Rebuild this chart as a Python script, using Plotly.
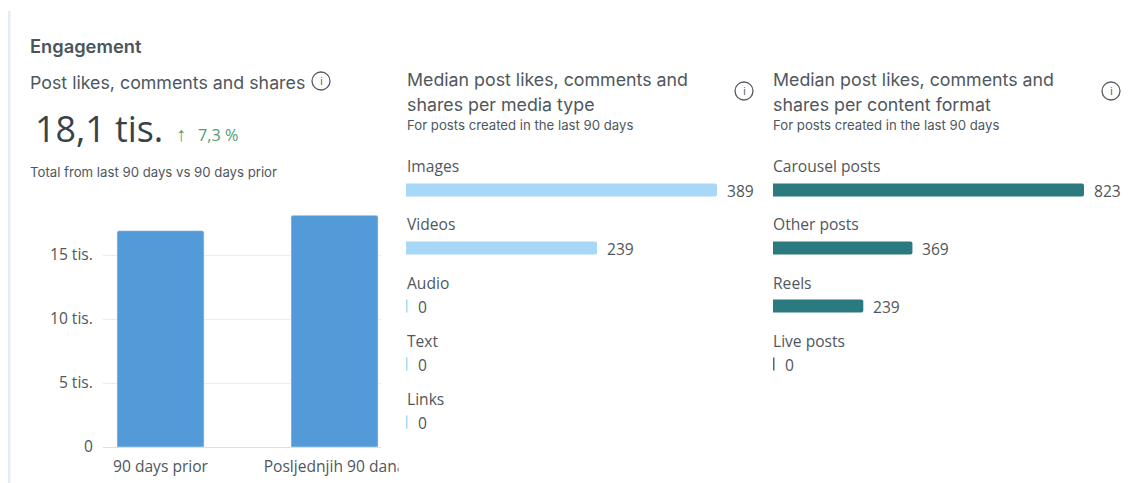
import plotly.graph_objects as go

W, H = 1143, 483

period_labels = ["90 days prior", "Posljednjih 90 dana"]
period_values = [16900, 18100]
y_tick_values = [0, 5000, 10000, 15000]
y_tick_labels = ["0", "5 tis.", "10 tis.", "15 tis."]

media_types = ["Images", "Videos", "Audio", "Text", "Links"]
media_values = [389, 239, 0, 0, 0]

content_formats = ["Carousel posts", "Other posts", "Reels", "Live posts"]
content_values = [823, 369, 239, 0]

BLUE = "#529bd8"
LIGHT = "#a8d8f8"
TEAL = "#2a7a7f"
TXT = "#4f575d"
DARK = "#37424a"
FONT = "Open Sans"
HEAD = "Inter"
LABEL = 15.6


def px(x):
    return x / W


def py(y):
    return 1 - y / H


fig = go.Figure()
fig.add_trace(go.Bar(x=period_labels, y=period_values, width=0.5, marker=dict(color=BLUE, cornerradius=2),
                     xaxis="x", yaxis="y", showlegend=False))
fig.add_trace(go.Bar(x=media_values, y=media_types, orientation="h", width=0.225,
                     marker=dict(color=LIGHT, cornerradius=2, line=dict(color=LIGHT, width=[3 if v == 0 else 0 for v in media_values])),
                     xaxis="x2", yaxis="y2", showlegend=False))
fig.add_trace(go.Bar(x=content_values, y=content_formats, orientation="h", width=0.225,
                     marker=dict(color=TEAL, cornerradius=2, line=dict(color=TEAL, width=[3 if v == 0 else 0 for v in content_values])),
                     xaxis="x3", yaxis="y3", showlegend=False))

ann = []


def text(x, y, s, size, color=TXT, weight=None, family=HEAD):
    f = dict(family=family, size=size, color=color)
    if weight:
        f["weight"] = weight
    ann.append(dict(xref="paper", yref="paper", x=px(x), y=py(y), text=s, showarrow=False,
                    xanchor="left", yanchor="middle", font=f, align="left", borderpad=0))


text(29, 46, "Engagement", 18.3, "#4a545b", 600)
text(29, 82, "Post likes, comments and shares", 17.8)
text(34, 128, "18,1 tis.", 35.8, DARK, family=FONT)
text(175, 134, "↑", 20, "#4a9e76", family=FONT)
text(197, 135, "7,3 %", 16.2, "#4a9e76", family=FONT)
text(29, 172, "Total from last 90 days vs 90 days prior", 13.2)

for col, fmt in ((406, "media type"), (772, "content format")):
    text(col, 80, "Median post likes, comments and", 17.8)
    text(col, 104, "shares per " + fmt, 17.8)
    text(col, 125, "For posts created in the last 90 days", 13.2)

for axis, names, vals in (("2", media_types, media_values), ("3", content_formats, content_values)):
    for n, v in zip(names, vals):
        ann.append(dict(xref="x" + axis, yref="y" + axis, x=0, y=n, text=n, showarrow=False,
                        xanchor="left", yanchor="middle", yshift=23.5, xshift=-1 if axis == "2" else -2,
                        font=dict(family=FONT, size=LABEL, color=TXT)))
        ann.append(dict(xref="x" + axis, yref="y" + axis, x=v, y=n, text=str(v), showarrow=False,
                        xanchor="left", yanchor="middle", xshift=8 if v else 10, yshift=-1,
                        font=dict(family=FONT, size=LABEL, color=TXT)))

# white cover that cuts the long tick label off as in the reference
ann.append(dict(xref="paper", yref="paper", x=px(398), y=py(467), text=" ", showarrow=False,
                xanchor="left", yanchor="middle", width=30, height=24, bgcolor="white",
                font=dict(size=12)))

shapes = [dict(type="rect", xref="paper", yref="paper", x0=px(8), x1=px(10.5), y0=py(11), y1=0,
               fillcolor="#e3edf9", line=dict(width=0), layer="below")]

for cx, cy in ((321, 81), (744, 91), (1111, 91)):
    shapes.append(dict(type="circle", xref="paper", yref="paper",
                       x0=px(cx - 9), x1=px(cx + 9), y0=py(cy + 9), y1=py(cy - 9),
                       line=dict(color="#555c62", width=1.3), fillcolor="rgba(0,0,0,0)"))
    ann.append(dict(xref="paper", yref="paper", x=px(cx), y=py(cy), text="i", showarrow=False,
                    xanchor="center", yanchor="middle",
                    font=dict(family=FONT, size=11.5, color="#555c62")))

BAND_TOP, BAND_BOTTOM = 161, 451
fig.update_layout(
    width=W, height=H, margin=dict(l=0, r=0, t=0, b=0, autoexpand=False),
    paper_bgcolor="white", plot_bgcolor="white",
    annotations=ann, shapes=shapes,
    font=dict(family=FONT, size=LABEL, color=TXT),
    xaxis=dict(domain=[px(103), px(381)], range=[-0.3305, 1.267], type="category",
               categoryorder="array", categoryarray=period_labels,
               showline=True, linecolor="#dcdfe3", linewidth=1, showgrid=False, zeroline=False,
               ticks="outside", ticklen=5, tickcolor="rgba(0,0,0,0)",
               tickfont=dict(family=FONT, size=LABEL, color=TXT)),
    yaxis=dict(domain=[py(447), py(215)], range=[0, 18125],
               tickvals=y_tick_values, ticktext=y_tick_labels,
               showgrid=True, gridcolor="#ececec", gridwidth=1, zeroline=False, showline=False,
               ticks="outside", ticklen=6, tickcolor="rgba(0,0,0,0)",
               tickfont=dict(family=FONT, size=LABEL, color=TXT)),
    xaxis2=dict(domain=[px(406), px(717)], range=[0, 389], visible=False),
    yaxis2=dict(domain=[py(BAND_BOTTOM), py(BAND_TOP)], range=[4.5, -0.5], type="category",
                categoryorder="array", categoryarray=media_types, visible=False),
    xaxis3=dict(domain=[px(773), px(1084)], range=[0, 823], visible=False),
    yaxis3=dict(domain=[py(BAND_BOTTOM), py(BAND_TOP)], range=[4.5, -0.5], type="category",
                categoryorder="array", categoryarray=content_formats, visible=False),
)

fig.write_html("out.html", config=dict(displayModeBar=False),
               post_script="document.body.style.margin='0';document.documentElement.style.overflow='hidden';")
